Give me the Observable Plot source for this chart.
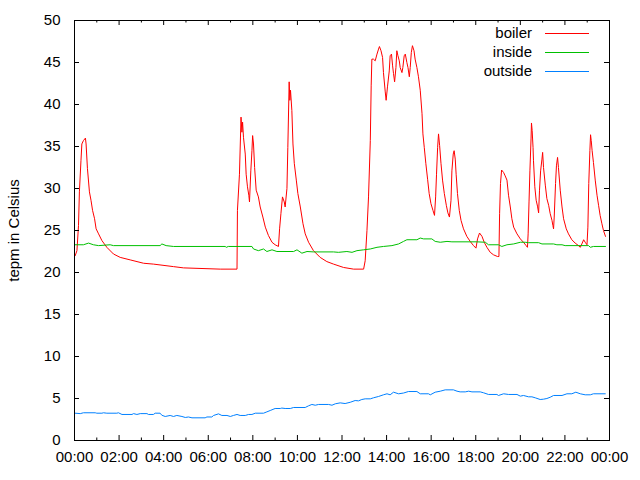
<!DOCTYPE html>
<html>
<head>
<meta charset="utf-8">
<script src="https://cdn.jsdelivr.net/npm/d3@7"></script>
<script src="https://cdn.jsdelivr.net/npm/@observablehq/plot@0.6"></script>
<style>
  html, body { margin: 0; padding: 0; background: #ffffff; }
  #chart { width: 640px; height: 480px; }
</style>
</head>
<body>
<div id="chart"></div>
<script>
// ---- data (hour of day, temperature °C) ----
const seriesNames = ["boiler", "inside", "outside"];
const seriesColors = ["#ff0000", "#00c000", "#0080ff"];
const xTickHours = [0, 2, 4, 6, 8, 10, 12, 14, 16, 18, 20, 22, 24];
const xMinorHours = [1, 3, 5, 7, 9, 11, 13, 15, 17, 19, 21, 23];
const yTickValues = [0, 5, 10, 15, 20, 25, 30, 35, 40, 45, 50];
const yLabel = "tepm in Celsius";

const boiler = [
  [0.03,22.0],[0.11,22.6],[0.18,25.6],[0.22,29.6],[0.29,33.3],[0.33,35.3],[0.40,35.7],[0.49,36.0],
  [0.52,35.3],[0.58,32.4],[0.67,29.6],[0.74,28.6],[0.81,27.4],[0.90,26.4],[0.97,25.2],[1.08,24.6],
  [1.23,23.8],[1.45,23.0],[1.75,22.2],[2.05,21.8],[2.50,21.5],[3.10,21.1],[3.54,21.0],[4.44,20.7],
  [4.89,20.55],[6.54,20.4],[7.29,20.4],[7.31,27.4],[7.40,31.7],[7.47,38.5],[7.51,36.7],[7.54,37.9],
  [7.58,36.1],[7.66,34.1],[7.70,31.7],[7.76,30.2],[7.82,29.2],[7.85,28.4],[7.91,32.1],[7.96,34.5],
  [7.99,36.3],[8.03,35.3],[8.08,32.5],[8.15,29.8],[8.25,29.0],[8.33,27.8],[8.45,26.6],[8.56,25.4],
  [8.70,24.4],[8.86,23.6],[9.00,23.3],[9.15,23.1],[9.20,25.2],[9.26,27.0],[9.33,29.0],[9.41,28.4],
  [9.45,27.8],[9.53,30.0],[9.57,34.9],[9.63,42.7],[9.66,40.5],[9.69,41.7],[9.75,39.3],[9.80,35.3],
  [9.86,33.0],[9.95,31.0],[10.02,29.4],[10.13,27.8],[10.25,25.8],[10.35,24.6],[10.50,23.6],[10.72,22.6],
  [11.02,21.8],[11.32,21.3],[11.62,21.0],[12.07,20.6],[12.52,20.4],[12.97,20.4],[13.04,21.4],[13.12,25.0],
  [13.19,29.0],[13.27,35.7],[13.31,42.3],[13.34,45.4],[13.41,45.4],[13.49,45.2],[13.57,46.0],[13.64,46.6],
  [13.68,46.9],[13.75,46.4],[13.82,45.6],[13.86,43.8],[13.94,41.5],[13.98,40.5],[14.04,42.1],[14.12,44.0],
  [14.16,45.8],[14.22,46.0],[14.27,44.6],[14.31,43.7],[14.36,42.7],[14.42,44.4],[14.46,46.4],[14.51,45.8],
  [14.57,45.2],[14.61,44.4],[14.69,43.8],[14.73,44.4],[14.79,45.8],[14.84,46.0],[14.91,45.0],[14.96,44.4],
  [15.02,43.3],[15.06,44.4],[15.11,46.2],[15.16,47.0],[15.23,46.4],[15.28,45.4],[15.36,44.4],[15.43,43.3],
  [15.51,41.7],[15.59,38.9],[15.63,36.5],[15.69,34.9],[15.76,33.0],[15.84,31.1],[15.91,29.4],[15.99,28.2],
  [16.08,27.4],[16.15,26.8],[16.20,29.0],[16.24,31.7],[16.29,34.9],[16.33,36.5],[16.38,35.1],[16.44,33.0],
  [16.51,31.0],[16.59,29.4],[16.68,28.0],[16.75,27.1],[16.82,26.6],[16.89,28.6],[16.93,32.1],[16.99,34.1],
  [17.03,34.5],[17.08,33.5],[17.12,31.7],[17.18,29.4],[17.26,27.4],[17.34,26.2],[17.45,25.2],[17.60,24.3],
  [17.75,23.7],[17.90,23.2],[18.01,22.9],[18.08,24.0],[18.17,24.7],[18.28,24.3],[18.38,23.6],[18.50,23.0],
  [18.65,22.4],[18.80,22.1],[18.98,21.9],[19.04,21.9],[19.07,27.0],[19.11,30.6],[19.16,32.2],[19.25,31.9],
  [19.32,31.5],[19.40,31.0],[19.47,29.2],[19.55,27.8],[19.62,26.4],[19.70,25.4],[19.85,24.6],[20.00,24.0],
  [20.14,23.6],[20.26,23.2],[20.32,23.0],[20.35,24.6],[20.39,28.4],[20.43,32.1],[20.48,35.9],[20.50,37.8],
  [20.53,36.9],[20.57,34.9],[20.59,33.3],[20.65,30.2],[20.71,28.6],[20.77,27.9],[20.82,27.1],[20.86,29.8],
  [20.91,32.1],[20.97,33.5],[21.00,34.3],[21.04,32.5],[21.12,30.4],[21.19,28.8],[21.27,28.0],[21.34,27.0],
  [21.42,26.2],[21.46,25.6],[21.49,25.2],[21.52,26.6],[21.58,30.6],[21.62,32.7],[21.67,33.7],[21.71,32.5],
  [21.79,29.8],[21.87,27.8],[21.94,26.4],[22.06,25.2],[22.16,24.6],[22.31,23.9],[22.46,23.5],[22.61,23.2],
  [22.69,23.0],[22.76,23.4],[22.84,23.9],[22.91,23.6],[22.99,23.3],[23.03,25.4],[23.07,30.6],[23.12,34.5],
  [23.15,36.4],[23.18,35.7],[23.22,34.5],[23.28,33.1],[23.36,31.0],[23.44,29.2],[23.51,28.0],[23.58,26.8],
  [23.66,25.8],[23.73,25.0],[23.82,24.3]
];

const inside = [
  [0.03,23.3],[0.40,23.3],[0.63,23.5],[0.85,23.3],[1.08,23.2],[1.60,23.3],[1.75,23.2],[3.84,23.2],
  [3.92,23.4],[4.11,23.2],[4.44,23.1],[6.76,23.1],[6.81,23.0],[6.90,23.1],[7.96,23.1],[8.03,22.8],
  [8.25,22.6],[8.48,22.8],[8.63,22.5],[8.86,22.7],[9.08,22.5],[9.83,22.5],[9.98,22.7],[10.20,22.3],
  [10.43,22.5],[10.72,22.45],[11.62,22.45],[11.84,22.4],[12.22,22.5],[12.45,22.4],[12.67,22.6],[12.97,22.7],
  [13.27,22.8],[13.57,23.0],[13.86,23.1],[14.24,23.2],[14.54,23.4],[14.76,23.7],[14.91,23.9],[15.36,23.9],
  [15.51,24.1],[15.66,24.0],[16.03,24.0],[16.18,23.7],[16.41,23.6],[16.71,23.7],[16.93,23.65],[18.05,23.65],
  [18.43,23.6],[18.57,23.3],[19.02,23.3],[19.17,23.1],[19.40,23.3],[19.70,23.4],[20.00,23.6],[20.22,23.6],
  [20.37,23.55],[20.82,23.55],[20.97,23.4],[21.49,23.4],[21.64,23.3],[21.87,23.3],[22.01,23.2],[23.06,23.2],
  [23.14,23.0],[23.28,23.1],[23.82,23.1]
];

const outside = [
  [0.03,3.25],[0.26,3.2],[0.40,3.3],[0.93,3.3],[1.00,3.25],[1.23,3.25],[1.30,3.3],[1.45,3.25],
  [1.90,3.25],[1.97,3.3],[2.13,3.1],[2.58,3.1],[2.65,3.2],[2.80,3.1],[2.95,3.2],[3.25,3.2],
  [3.32,3.1],[3.54,3.1],[3.62,3.25],[3.84,3.25],[3.92,3.0],[4.07,2.86],[4.29,2.98],[4.44,2.86],
  [4.59,2.98],[4.82,2.86],[4.97,2.74],[5.11,2.8],[5.27,2.7],[5.86,2.7],[5.94,2.8],[6.16,2.8],
  [6.24,2.98],[6.46,3.17],[6.61,2.98],[6.84,2.98],[6.99,2.86],[7.13,2.98],[7.29,3.1],[7.43,2.98],
  [7.66,2.98],[7.81,3.1],[7.96,3.1],[8.11,3.25],[8.48,3.25],[8.63,3.41],[8.78,3.57],[9.00,3.81],
  [9.23,3.81],[9.30,3.86],[9.45,3.81],[9.68,3.81],[9.83,3.93],[10.35,3.93],[10.50,4.13],[10.65,4.29],
  [10.80,4.2],[10.95,4.29],[11.40,4.29],[11.55,4.2],[11.70,4.37],[11.92,4.48],[12.14,4.4],[12.37,4.55],
  [12.59,4.76],[12.74,4.72],[12.89,4.88],[13.04,4.96],[13.27,4.96],[13.41,5.08],[13.64,5.24],[13.86,5.44],
  [14.02,5.56],[14.16,5.44],[14.31,5.75],[14.54,5.56],[14.76,5.65],[14.98,5.83],[15.36,5.83],[15.51,5.56],
  [15.88,5.56],[15.96,5.44],[16.18,5.75],[16.41,5.87],[16.63,6.03],[17.00,6.03],[17.16,5.87],[17.30,5.79],
  [17.53,5.79],[17.68,5.87],[17.83,5.79],[18.20,5.79],[18.35,5.68],[18.57,5.48],[18.95,5.48],[19.02,5.36],
  [19.25,5.56],[19.47,5.48],[19.85,5.48],[20.00,5.28],[20.14,5.36],[20.37,5.2],[20.52,5.2],[20.67,5.08],
  [20.89,4.88],[21.04,4.92],[21.19,5.0],[21.34,5.15],[21.49,5.36],[21.87,5.36],[22.09,5.56],[22.31,5.56],
  [22.49,5.75],[22.69,5.56],[22.91,5.44],[23.14,5.44],[23.28,5.56],[23.81,5.56]
];

// ---- layout / style ----
const W = 640, H = 480;
const mL = 74, mR = 31, mT = 20, mB = 40;
const frameW = W - mL - mR, frameH = H - mT - mB;
const font = "'Liberation Sans', Arial, Helvetica, sans-serif";
const majorLen = 5, minorLen = 2.5;

const fmtHour = d => String(d % 24).padStart(2, "0") + ":00";

// legend drawn inside the frame, top-right (gnuplot style)
const legendMark = (index, scales, values, dims) => {
  const ns = "http://www.w3.org/2000/svg";
  const g = document.createElementNS(ns, "g");
  g.setAttribute("font-family", font);
  g.setAttribute("font-size", "15");
  const xr = dims.width - dims.marginRight;
  for (let i = 0; i < seriesNames.length; i++) {
    const y = dims.marginTop + 13 + i * 19;
    const t = document.createElementNS(ns, "text");
    t.setAttribute("x", xr - 77);
    t.setAttribute("y", y);
    t.setAttribute("dy", "0.35em");
    t.setAttribute("text-anchor", "end");
    t.setAttribute("fill", "black");
    t.textContent = seriesNames[i];
    g.appendChild(t);
    const l = document.createElementNS(ns, "line");
    l.setAttribute("x1", xr - 64);
    l.setAttribute("x2", xr - 20);
    l.setAttribute("y1", y + 0.5);
    l.setAttribute("y2", y + 0.5);
    l.setAttribute("stroke", seriesColors[i]);
    l.setAttribute("style", "stroke:" + seriesColors[i] + ";stroke-width:1px");
    g.appendChild(l);
  }
  return g;
};

const series = [boiler, inside, outside];

const chart = Plot.plot({
  width: W,
  height: H,
  marginLeft: mL,
  marginRight: mR,
  marginTop: mT,
  marginBottom: mB,
  style: { fontFamily: font, fontSize: "15px", background: "white", color: "black" },
  x: { type: "linear", domain: [0, 24] },
  y: { type: "linear", domain: [0, 50] },
  marks: [
    // series lines
    ...series.map((s, i) => Plot.line(s, {
      x: d => d[0], y: d => d[1],
      stroke: seriesColors[i], strokeWidth: 1, curve: "linear"
    })),
    // inward tick marks (mirrored on all four sides)
    Plot.ruleX(xTickHours, { x: d => d, insetTop: frameH - majorLen, stroke: "black" }),
    Plot.ruleX(xTickHours, { x: d => d, insetBottom: frameH - majorLen, stroke: "black" }),
    Plot.ruleX(xMinorHours, { x: d => d, insetTop: frameH - minorLen, stroke: "black" }),
    Plot.ruleX(xMinorHours, { x: d => d, insetBottom: frameH - minorLen, stroke: "black" }),
    Plot.ruleY(yTickValues, { y: d => d, insetRight: frameW - majorLen, stroke: "black" }),
    Plot.ruleY(yTickValues, { y: d => d, insetLeft: frameW - majorLen, stroke: "black" }),
    Plot.frame({ stroke: "black", strokeWidth: 1 }),
    Plot.axisX({ ticks: xTickHours, tickSize: 0, tickPadding: 11, tickFormat: fmtHour, label: null, fontSize: 15 }),
    Plot.axisY({ ticks: yTickValues, tickSize: 0, tickPadding: 14, label: yLabel,
                 labelAnchor: "center", labelArrow: "none", labelOffset: 66, fontSize: 15 }),
    legendMark
  ]
});

document.getElementById("chart").appendChild(chart);
</script>
</body>
</html>
